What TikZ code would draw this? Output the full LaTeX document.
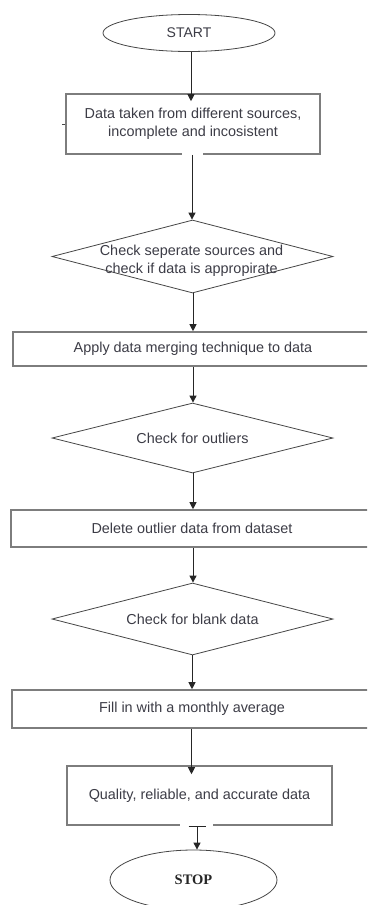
\documentclass[tikz,border=0pt]{standalone}
\usepackage{fontspec}
\setmainfont{Liberation Sans}
\newfontfamily\stopfont{Liberation Serif}
\usetikzlibrary{shapes.geometric,arrows.meta}
\definecolor{boxline}{RGB}{125,125,125}
\definecolor{dialine}{RGB}{70,70,70}
\definecolor{txtcol}{RGB}{60,60,70}
\tikzset{
  stepbox/.style={draw=boxline, line width=1.6pt, fill=none, inner sep=0pt, align=center, text=txtcol, font=\fontsize{14.4}{18}\selectfont},
  decbox/.style={diamond, draw=dialine, line width=0.8pt, inner sep=0pt, minimum width=281pt},
  dtext/.style={inner sep=0pt, align=center, text=txtcol, font=\fontsize{14.4}{18}\selectfont},
  termbox/.style={ellipse, draw=dialine, line width=0.8pt, inner sep=0pt},
  flow/.style={draw=black!85, line width=1pt, -{Triangle[width=7pt,length=7pt]}},
}
\begin{document}
\begin{tikzpicture}[x=1pt,y=-1pt]
\clip (0,0) rectangle (367,905);
\fill[white] (0,0) rectangle (367,905);

\node[termbox, minimum width=172pt, minimum height=37pt, text=txtcol, font=\fontsize{14}{18}\selectfont] (start) at (189,33) {START};
\node[stepbox, minimum width=254pt, minimum height=60pt] (b1) at (193,124) {Data taken from different sources,\\incomplete and incosistent};
\node[decbox, minimum height=73pt] (d1) at (192.5,256.5) {};
\node[dtext] (t1) at (191.5,260.5) {Check seperate sources and\\check if data is appropirate};
\node[stepbox, minimum width=360pt, minimum height=34pt] (b2) at (193,349) {};
\node[dtext] (t2) at (193,349) {Apply data merging technique to data};
\node[decbox, minimum height=70pt] (d2) at (192.5,438) {};
\node[dtext] (t3) at (192.5,438) {Check for outliers};
\node[stepbox, minimum width=362pt, minimum height=37pt] (b3) at (192,528.5) {};
\node[dtext] (t4) at (192,528.5) {Delete outlier data from dataset};
\node[decbox, minimum height=72pt] (d3) at (192.5,619) {};
\node[dtext] (t5) at (192.5,619) {Check for blank data};
\node[stepbox, minimum width=361pt, minimum height=38pt] (b4) at (192.5,709) {};
\node[dtext] (t6) at (192,709) {Fill in with a monthly average};
\node[stepbox, minimum width=265pt, minimum height=59pt] (b5) at (199.5,795.5) {Quality, reliable, and accurate data};
\node[termbox, minimum width=167pt, minimum height=60pt, font=\stopfont\bfseries\fontsize{14.5}{18}\selectfont, text=black!85] (stop) at (193.5,880) {STOP};

% small tick on the left of the first box
\coordinate (tk) at ([xshift=-3pt]b1.west);
\draw[dialine, line width=1pt] (b1.west) -- (tk);

% gaps in box bottoms
\fill[white] (182,151) rectangle (203,157);
\fill[white] (180,822) rectangle (213,828);

\coordinate (a0) at ([yshift=-8pt]b1.north -| 191,0);
\draw[flow] (start.south -| 191,0) -- (a0);
\draw[flow] (b1.south -| 192,0) -- (d1.north -| 192,0);
\draw[flow] (d1.south -| 193,0) -- (b2.north -| 193,0);
\draw[flow] (b2.south -| 193,0) -- (d2.north -| 193,0);
\draw[flow] (d2.south -| 193,0) -- (b3.north -| 193,0);
\draw[flow] (b3.south -| 193,0) -- (d3.north -| 193,0);
\draw[flow] (d3.south -| 192,0) -- (b4.north -| 192,0);
\coordinate (a8) at ([yshift=-9pt]b5.north -| 191.5,0);
\draw[flow] (b4.south -| 191.5,0) -- (a8);
\draw[draw=black!85, line width=1pt, {Bar[width=17pt,line width=1pt]}-{Triangle[width=7pt,length=7pt]}] (b5.south -| 197,0) -- (stop.north -| 197,0);
\end{tikzpicture}
\end{document}
